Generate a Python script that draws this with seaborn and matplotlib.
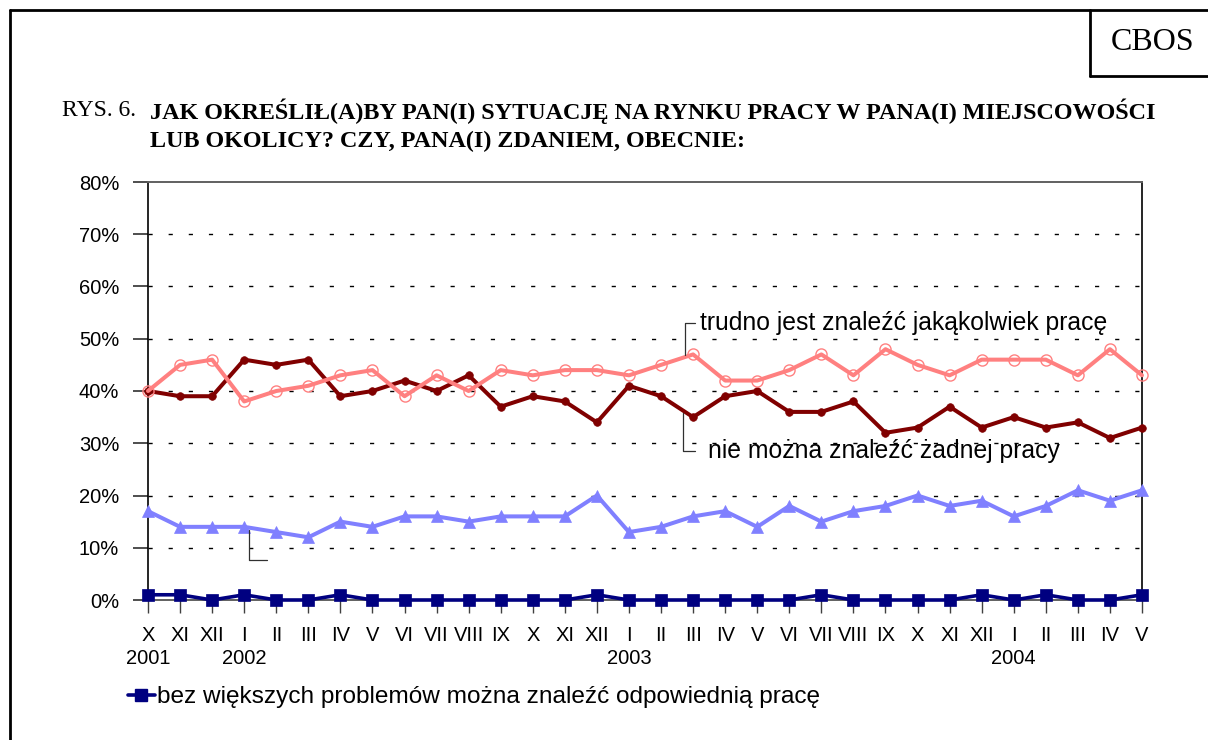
import matplotlib
matplotlib.use("Agg")
import matplotlib.pyplot as plt
import seaborn as sns
import numpy as np
import pandas as pd
from matplotlib.lines import Line2D
from matplotlib.ticker import PercentFormatter
import matplotlib.transforms as mtransforms

# months of the survey, X 2001 .. V 2004
months = ["X", "XI", "XII",
          "I", "II", "III", "IV", "V", "VI", "VII", "VIII", "IX", "X", "XI", "XII",
          "I", "II", "III", "IV", "V", "VI", "VII", "VIII", "IX", "X", "XI", "XII",
          "I", "II", "III", "IV", "V"]
year_names = ["2001", "2002", "2003", "2004"]
year_first_month = [0, 3, 15, 27]   # index of the month where each year label sits

# percentages
bez_problemow = [1, 1, 0, 1, 0, 0, 1, 0, 0, 0, 0, 0, 0, 0, 1, 0,
                 0, 0, 0, 0, 0, 1, 0, 0, 0, 0, 1, 0, 1, 0, 0, 1]
niebieska = [17, 14, 14, 14, 13, 12, 15, 14, 16, 16, 15, 16, 16, 16, 20, 13,
             14, 16, 17, 14, 18, 15, 17, 18, 20, 18, 19, 16, 18, 21, 19, 21]
nie_mozna = [40, 39, 39, 46, 45, 46, 39, 40, 42, 40, 43, 37, 39, 38, 34, 41,
             39, 35, 39, 40, 36, 36, 38, 32, 33, 37, 33, 35, 33, 34, 31, 33]
trudno = [40, 45, 46, 38, 40, 41, 43, 44, 39, 43, 40, 44, 43, 44, 44, 43,
          45, 47, 42, 42, 44, 47, 43, 48, 45, 43, 46, 46, 46, 43, 48, 43]

lbl_bez = "bez większych problemów można znaleźć odpowiednią pracę"
lbl_trudno = "trudno jest znaleźć jakąkolwiek pracę"
lbl_nie = "nie można znaleźć żadnej pracy"

df = pd.DataFrame({"k": np.arange(len(months)), "miesiac": months,
                   "bez": bez_problemow, "nieb": niebieska,
                   "nie": nie_mozna, "trudno": trudno})

sns.set_style("white")
plt.rcParams["font.family"] = ["Liberation Sans", "DejaVu Sans"]
plt.rcParams["text.color"] = "black"
plt.rcParams["xtick.labelcolor"] = "black"
plt.rcParams["ytick.labelcolor"] = "black"

W, H = 1208, 740
fig = plt.figure(figsize=(W / 100, H / 100), dpi=100)
ax = fig.add_axes([148 / W, 1 - 600 / H, (1142 - 148) / W, (600 - 182) / H])

navy = "#000080"
lblue = "#8080FF"
dred = "#800000"
pink = "#FF8080"

sns.lineplot(data=df, x="k", y="bez", ax=ax, color=navy, lw=2.6, marker="s",
             markersize=8.5, markeredgecolor=navy, markeredgewidth=0.5, clip_on=False, zorder=3)
sns.lineplot(data=df, x="k", y="nieb", ax=ax, color=lblue, lw=2.9, marker="^",
             markersize=8.5, markeredgecolor=lblue, markeredgewidth=0.5, clip_on=False, zorder=3)
sns.lineplot(data=df, x="k", y="nie", ax=ax, color=dred, lw=2.9, marker="o",
             markersize=5.5, markeredgecolor=dred, markeredgewidth=0.5, clip_on=False, zorder=4)
sns.lineplot(data=df, x="k", y="trudno", ax=ax, color=pink, lw=2.9, marker="o",
             markersize=8, markerfacecolor="none", markeredgecolor=pink,
             markeredgewidth=1.0, clip_on=False, zorder=5)

ax.set_xlim(0, len(months) - 1)
ax.set_ylim(0, 80)
ax.set_yticks(np.arange(0, 81, 10))
ax.yaxis.set_major_formatter(PercentFormatter(xmax=100, decimals=0))
ax.set_xticks(df["k"])
ax.set_xticklabels(df["miesiac"])
ax.set_xlabel("")
ax.set_ylabel("")

# dashed horizontal gridlines
for v in range(10, 80, 10):
    ax.axhline(v, color="black", lw=1.0, linestyle=(0, (3, 11.5)), zorder=1)

for side in ["left", "right"]:
    ax.spines[side].set_color("black")
    ax.spines[side].set_linewidth(1.2)
for side in ["top", "bottom"]:
    ax.spines[side].set_color("#606060")
    ax.spines[side].set_linewidth(1.4)

ax.tick_params(axis="y", direction="out", length=10.8, width=1.2, color="#303030",
               pad=10, labelsize=14.5, labelcolor="black")
ax.tick_params(axis="x", direction="out", length=9.4, width=1.0, color="#404040",
               pad=9, labelsize=14.5, labelcolor="black")
ax.tick_params(left=True, bottom=True)

# year labels under the month labels
trans = mtransforms.blended_transform_factory(ax.transData, ax.transAxes)
for name, pos in zip(year_names, year_first_month):
    ax.text(pos, -0.141, name, transform=trans, ha="center", va="center", fontsize=14.5)

# series labels with leader lines
ax.plot([16.75, 16.75, 17.05], [46.8, 53.0, 53.0], color="#303030", lw=0.9, zorder=6, clip_on=False)
ax.text(17.2, 53.0, lbl_trudno, ha="left", va="center", fontsize=17.8, zorder=7)
ax.plot([16.7, 16.7, 17.05], [35.8, 28.5, 28.5], color="#303030", lw=0.9, zorder=6, clip_on=False)
ax.text(17.45, 28.5, lbl_nie, ha="left", va="center", fontsize=17.8, zorder=7)
ax.plot([3.15, 3.15, 3.7], [13.4, 7.7, 7.7], color="#303030", lw=0.9, zorder=6, clip_on=False)

# legend with the only unlabeled series
h = Line2D([], [], color=navy, lw=2.6, marker="s", markersize=8.5, markeredgecolor=navy)
fig.legend(handles=[h], labels=[lbl_bez], loc="center left",
           bbox_to_anchor=(128 / W, 1 - 697 / H), frameon=False, fontsize=17.6,
           handlelength=1.1, handletextpad=0.1, borderpad=0, borderaxespad=0,
           labelcolor="black")

# page frame and CBOS box
def fig_line(xs, ys, lw=2.0):
    fig.add_artist(Line2D([x / W for x in xs], [1 - y / H for y in ys],
                          color="black", lw=lw, transform=fig.transFigure))

fig_line([10, W], [10, 10])
fig_line([10, 10], [10, H])
fig_line([1090, 1090], [10, 76])
fig_line([1090, W], [76, 76])
fig.text(1153 / W, 1 - 42 / H, "CBOS", ha="center", va="center", fontsize=23,
         family=["Liberation Serif", "DejaVu Serif"])

# title
serif = ["Liberation Serif", "DejaVu Serif"]
fig.text(62 / W, 1 - 111 / H, "RYS. 6.", ha="left", va="center", fontsize=17, family=serif)
fig.text(150 / W, 1 - 111 / H, "JAK OKREŚLIŁ(A)BY PAN(I) SYTUACJĘ NA RYNKU PRACY W PANA(I) MIEJSCOWOŚCI",
         ha="left", va="center", fontsize=17.4, fontweight="bold", family=serif)
fig.text(150 / W, 1 - 141 / H, "LUB OKOLICY? CZY, PANA(I) ZDANIEM, OBECNIE:",
         ha="left", va="center", fontsize=17.4, fontweight="bold", family=serif)

fig.savefig("out.png", dpi=100, facecolor="white")
